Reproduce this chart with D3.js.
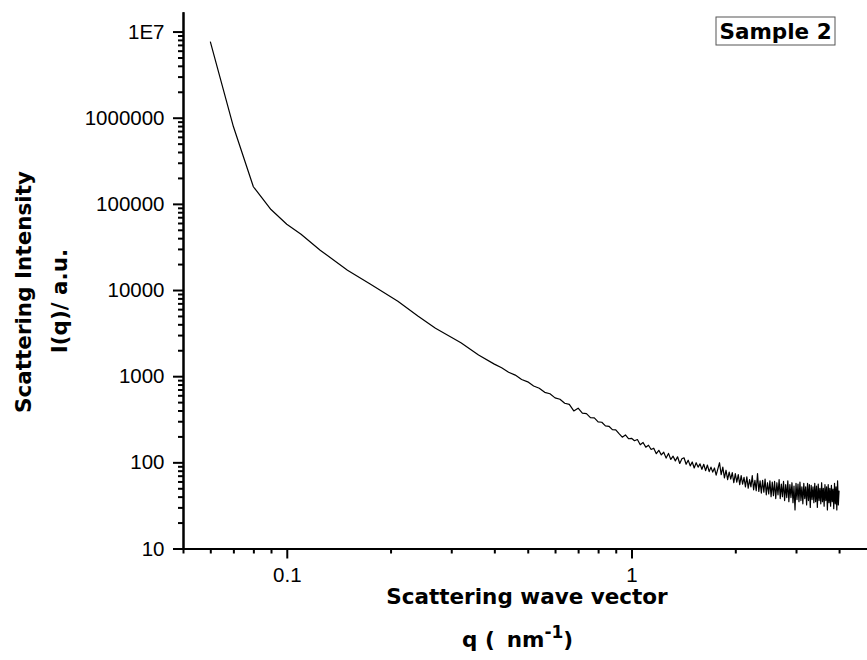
<!DOCTYPE html>
<html>
<head>
    <meta charset="UTF-8" />
    <script src="https://d3js.org/d3.v7.min.js"></script>
    <style>
        body { margin: 0; background: white; }
        .tick text { font-family: "Liberation Sans", Arial, sans-serif; font-size: 20.5px; fill: black; }
        .axis path, .axis line { stroke: black; stroke-width: 2px; }
        .title { font-family: "DejaVu Sans", Verdana, sans-serif; font-weight: bold; font-size: 21.5px; fill: black; }
    </style>
</head>
<body>
<svg id="chart" width="867" height="660"></svg>
<script>
    // data: q in nm^-1, I in a.u.
    const qHead = [0.06, 0.07, 0.08, 0.09, 0.10, 0.11, 0.125, 0.15, 0.175, 0.21, 0.24, 0.27, 0.32, 0.36, 0.40];
    const iHead = [7650000, 790000, 158000, 86000, 58000, 44500, 29000, 17000, 11700, 7400, 5000, 3600, 2450, 1760, 1380];

    // q = 0.42 .. 1.00, step 0.02
    const iMid = [1250, 1110, 1030, 915, 860, 770, 725, 650, 625, 560,
                  540, 485, 470, 395, 425, 372, 368, 330, 328, 295,
                  292, 265, 262, 240, 238, 215, 196, 208, 188, 190];

    // q = 1.02 .. 4.00, step 0.02
    const iTail = [178, 184, 160, 170, 150, 158, 141, 146, 126, 138,
                   122, 131, 112, 127, 108, 118, 104, 116, 97, 110,
                   113, 95, 106, 91, 101, 86, 99, 88, 96, 83,
                   95, 80, 93, 78, 88, 77, 86, 71, 84, 99,
                   72, 88, 66, 81, 63, 77, 64, 76, 58, 74,
                   59, 72, 55, 70, 56, 67, 52, 68, 50, 63,
                   52, 70, 48, 62, 47, 74, 46, 61, 44, 62,
                   45, 64, 42, 58, 43, 61, 40, 59, 41, 60,
                   38, 58, 42, 63, 38, 56, 40, 60, 36, 55,
                   39, 61, 35, 55, 39, 58, 34, 53, 28, 57,
                   37, 56, 35, 59, 36, 52, 33, 57, 38, 52,
                   32, 57, 36, 55, 30, 54, 37, 52, 34, 57,
                   35, 53, 30, 56, 36, 50, 33, 58, 35, 50,
                   31, 55, 36, 52, 28, 55, 34, 50, 31, 54,
                   35, 49, 29, 57, 33, 52, 28, 61, 32, 47];

    const qMid = d3.range(iMid.length).map(i => +(0.42 + 0.02 * i).toFixed(2));
    const qTail = d3.range(iTail.length).map(i => +(1.02 + 0.02 * i).toFixed(2));

    const data = [];
    qHead.forEach((q, i) => data.push({q: q, v: iHead[i]}));
    qMid.forEach((q, i) => data.push({q: q, v: iMid[i]}));
    qTail.forEach((q, i) => data.push({q: q, v: iTail[i]}));

    const yMajor = [10, 100, 1000, 10000, 100000, 1000000, 10000000];
    const yLabels = ['10', '100', '1000', '10000', '100000', '1000000', '1E7'];
    const xMajor = [0.1, 1];
    const xLabels = ['0.1', '1'];

    const svg = d3.select('svg#chart');

    const xScale = d3.scaleLog().domain([0.05, 4.82]).range([183, 867]);
    const yScale = d3.scaleLog().domain([10, 1.7e7]).range([548.5, 11.7]);

    // minor ticks 2..9 of each decade
    let yMinor = [];
    for (let e = 1; e <= 7; e++) {
        for (let m = 2; m <= 9; m++) {
            let v = m * Math.pow(10, e);
            if (v < 1.7e7) yMinor.push(v);
        }
    }
    let xMinor = [0.05, 0.06, 0.07, 0.08, 0.09, 0.2, 0.3, 0.4, 0.5, 0.6, 0.7, 0.8, 0.9, 2, 3, 4];

    // y axis
    svg.append('g').attr('class', 'axis')
        .attr('transform', 'translate(183,0)')
        .call(d3.axisLeft(yScale).tickValues(yMinor).tickSize(5).tickSizeOuter(0).tickFormat(''));
    svg.append('g').attr('class', 'axis')
        .attr('transform', 'translate(183,0)')
        .call(d3.axisLeft(yScale).tickValues(yMajor).tickSize(10).tickSizeOuter(0).tickPadding(8.5)
            .tickFormat((d, i) => yLabels[i]));

    // x axis
    svg.append('g').attr('class', 'axis')
        .attr('transform', 'translate(0,548.5)')
        .call(d3.axisBottom(xScale).tickValues(xMinor).tickSize(5).tickSizeOuter(0).tickFormat(''));
    svg.append('g').attr('class', 'axis')
        .attr('transform', 'translate(0,548.5)')
        .call(d3.axisBottom(xScale).tickValues(xMajor).tickSize(10).tickSizeOuter(0).tickPadding(9)
            .tickFormat((d, i) => xLabels[i]));

    // curve
    const line = d3.line().x(d => xScale(d.q)).y(d => yScale(d.v));
    svg.append('path')
        .datum(data)
        .attr('d', line)
        .attr('fill', 'none')
        .attr('stroke', 'black')
        .attr('stroke-width', 1.2)
        .attr('stroke-linejoin', 'round');

    // x title
    svg.append('text').attr('class', 'title')
        .attr('x', 527).attr('y', 604)
        .attr('text-anchor', 'middle')
        .text('Scattering wave vector');

    const unit = svg.append('text').attr('class', 'title')
        .attr('x', 462).attr('y', 647);
    unit.append('tspan').text('q (');
    unit.append('tspan').attr('dx', 12).text('nm');
    unit.append('tspan').attr('dy', -9).style('font-size', '17px').text('-1');
    unit.append('tspan').attr('dy', 9).text(')');

    // y title
    svg.append('text').attr('class', 'title')
        .attr('transform', 'translate(31,292) rotate(-90)')
        .attr('text-anchor', 'middle')
        .text('Scattering Intensity');
    svg.append('text').attr('class', 'title')
        .attr('transform', 'translate(67,301) rotate(-90)')
        .attr('text-anchor', 'middle')
        .text('I(q)/ a.u.');

    // sample label
    svg.append('rect')
        .attr('x', 716).attr('y', 17)
        .attr('width', 119).attr('height', 28)
        .attr('fill', 'white')
        .attr('stroke', '#555')
        .attr('stroke-width', 1);
    svg.append('text').attr('class', 'title')
        .attr('x', 775.5).attr('y', 39)
        .attr('text-anchor', 'middle')
        .text('Sample 2');
</script>
</body>
</html>
